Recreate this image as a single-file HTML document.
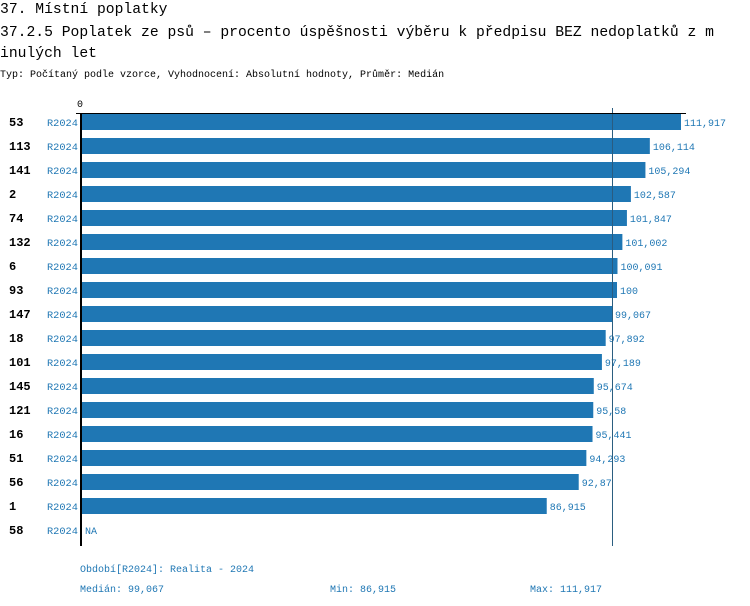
<!DOCTYPE html>
<html><head><meta charset="utf-8"><style>
body{margin:0;background:#fff;width:750px;height:606px;overflow:hidden;font-family:"Liberation Mono",monospace}
svg{display:block}
</style></head><body>
<svg id="c" width="750" height="606" xmlns="http://www.w3.org/2000/svg">
<text x="0" y="13" font-size="14.7" fill="#000" font-family="Liberation Mono,monospace">37. Místní poplatky</text>
<text x="0" y="36" font-size="14.7" fill="#000" font-family="Liberation Mono,monospace">37.2.5 Poplatek ze psů – procento úspěšnosti výběru k předpisu BEZ nedoplatků z m</text>
<text x="0" y="57" font-size="14.7" fill="#000" font-family="Liberation Mono,monospace">inulých let</text>
<text x="0" y="77" font-size="10" fill="#000" font-family="Liberation Mono,monospace">Typ: Počítaný podle vzorce, Vyhodnocení: Absolutní hodnoty, Průměr: Medián</text>
<g id="plot"></g>
<text x="80" y="572" font-size="10" fill="#1f77b4" font-family="Liberation Mono,monospace">Období[R2024]: Realita - 2024</text>
<text x="80" y="592" font-size="10" fill="#1f77b4" font-family="Liberation Mono,monospace">Medián: 99,067</text>
<text x="330" y="592" font-size="10" fill="#1f77b4" font-family="Liberation Mono,monospace">Min: 86,915</text>
<text x="530" y="592" font-size="10" fill="#1f77b4" font-family="Liberation Mono,monospace">Max: 111,917</text>
</svg>
<script>
const categories=["53","113","141","2","74","132","6","93","147","18","101","145","121","16","51","56","1","58"];
const values=[111.917,106.114,105.294,102.587,101.847,101.002,100.091,100,99.067,97.892,97.189,95.674,95.58,95.441,94.293,92.87,86.915,null];
const valueLabels=["111,917","106,114","105,294","102,587","101,847","101,002","100,091","100","99,067","97,892","97,189","95,674","95,58","95,441","94,293","92,87","86,915","NA"];
const seriesName="R2024";
const median=99.067;
const maxV=111.917;
const NS="http://www.w3.org/2000/svg";
const g=document.getElementById('plot');
const x0=80,x1=681,top0=114,step=24,bh=16;
const xs=v=>x0+(v/maxV)*(x1-x0);
const ys=i=>top0+i*step;
function mk(t,a){const e=document.createElementNS(NS,t);for(const k in a)e.setAttribute(k,a[k]);g.appendChild(e);return e;}
values.forEach((v,i)=>{
  const y=ys(i);
  const c=mk('text',{x:9,y:y+12,'font-size':12,'font-weight':'bold',fill:'#000','font-family':'Liberation Mono,monospace'});
  c.textContent=categories[i];
  
  
  const s=mk('text',{x:47,y:y+12,'font-size':10.3,fill:'#1f77b4','font-family':'Liberation Mono,monospace'});
  s.textContent=seriesName;
  
  
  let endX=x0+2;
  if(v!=null){
    const r=mk('rect',{x:x0+2,y:y,width:xs(v)-x0-2,height:bh,fill:'#1f77b4'});
    
    
    endX=xs(v);
  }
  const t=mk('text',{x:endX+3,y:y+12,'font-size':10,fill:'#1f77b4','font-family':'Liberation Mono,monospace'});
  t.textContent=valueLabels[i];
  
  
});
const ml=mk('line',{x1:xs(median)+0.5,x2:xs(median)+0.5,y1:108,y2:546,stroke:'#2a5d80','stroke-width':1});


const tl=mk('line',{x1:76,x2:686,y1:top0-0.5,y2:top0-0.5,stroke:'#000','stroke-width':1});


const ax=mk('line',{x1:x0+1,x2:x0+1,y1:113,y2:546,stroke:'#000','stroke-width':2});


const z=mk('text',{x:77,y:107,'font-size':10,fill:'#000','font-family':'Liberation Mono,monospace'});
z.textContent='0';


</script>
</body></html>
